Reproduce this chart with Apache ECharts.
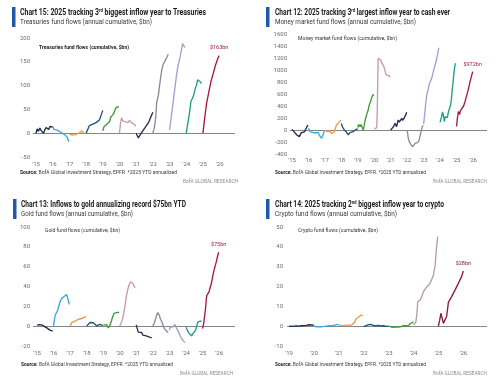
<!DOCTYPE html>
<html><head><meta charset="utf-8">
<script src="https://cdn.jsdelivr.net/npm/echarts@6/dist/echarts.min.js"></script>
<style>html,body{margin:0;padding:0;background:#fff}#c{width:500px;height:384px}</style>
</head><body><div id="c"></div>
<script>
// ---------- DATA ----------
const yearColors = ['#1c2b50','#3ca6d6','#ec9a4a','#1e5577','#3e9b35','#c99aac','#3b2352','#8f8a94','#9ba4cf','#1f9e85','#a81a40'];
const cryptoColors = ['#1c2b50','#3ca6d6','#ec9a4a','#1e5577','#3e9b35','#b89aaa','#8a1a40'];
const tsyTicks = [2015,2016,2017,2018,2019,2020,2021,2022,2023,2024,2025,2026];
const mmfTicks = tsyTicks;
const goldTicks = tsyTicks;
const cryptoTicks = [2019,2020,2021,2022,2023,2024,2025,2026];

// Treasuries fund flows ($bn, annual cumulative)
const tsy2015 = [[2015.0,0],[2015.07,9],[2015.15,4],[2015.23,11],[2015.3,6],[2015.38,3],[2015.45,0],[2015.53,7],[2015.6,12],[2015.68,15],[2015.76,8],[2015.84,14],[2015.92,11],[2016.0,13]];
const tsy2016 = [[2016.0,14],[2016.08,8],[2016.16,12],[2016.24,7],[2016.32,10],[2016.4,4],[2016.48,5],[2016.56,0],[2016.64,2],[2016.72,-3],[2016.8,-5],[2016.88,-9],[2016.96,-18]];
const tsy2017 = [[2017.0,-2],[2017.1,-3],[2017.2,-4],[2017.3,-2],[2017.4,-3],[2017.5,-1],[2017.6,1],[2017.7,4],[2017.75,5],[2017.8,1],[2017.9,-1],[2018.0,0]];
const tsy2018 = [[2018.0,0],[2018.1,4],[2018.2,16],[2018.3,20],[2018.4,19],[2018.5,23],[2018.6,22],[2018.7,26],[2018.8,28],[2018.9,38],[2019.0,48]];
const tsy2019 = [[2019.0,5],[2019.08,14],[2019.16,16],[2019.24,19],[2019.32,20],[2019.4,24],[2019.48,34],[2019.56,36],[2019.64,40],[2019.72,48],[2019.8,54],[2019.88,53],[2019.96,56]];
const tsy2020 = [[2020.0,0],[2020.06,20],[2020.12,32],[2020.2,26],[2020.28,30],[2020.36,24],[2020.44,28],[2020.52,22],[2020.6,27],[2020.68,30],[2020.76,21],[2020.84,25],[2020.92,18],[2020.97,14]];
const tsy2021 = [[2021.0,0],[2021.06,-4],[2021.13,-10],[2021.2,-6],[2021.3,0],[2021.4,5],[2021.5,10],[2021.6,14],[2021.7,20],[2021.8,27],[2021.9,36],[2022.0,44]];
const tsy2022 = [[2022.0,0],[2022.08,10],[2022.17,32],[2022.23,65],[2022.33,80],[2022.43,108],[2022.53,132],[2022.62,145],[2022.7,150],[2022.77,155],[2022.85,160],[2022.92,166]];
const tsy2023 = [[2023.0,7],[2023.12,39],[2023.22,67],[2023.32,95],[2023.42,123],[2023.52,144],[2023.62,158],[2023.72,176],[2023.78,188],[2023.83,186],[2023.88,182],[2023.93,180]];
const tsy2024 = [[2024.0,0],[2024.08,18],[2024.18,39],[2024.28,67],[2024.35,72],[2024.42,77],[2024.52,91],[2024.62,102],[2024.68,112],[2024.72,116],[2024.78,110],[2024.84,108],[2024.9,104]];
const tsy2025 = [[2025.0,0],[2025.08,25],[2025.18,53],[2025.22,63],[2025.28,66],[2025.36,88],[2025.48,109],[2025.62,126],[2025.76,144],[2025.9,158],[2025.97,163]];

// Money market fund flows ($bn)
const mmf2015 = [[2015.0,11],[2015.08,-10],[2015.16,-39],[2015.24,-60],[2015.3,-83],[2015.38,-70],[2015.45,-111],[2015.52,-80],[2015.57,-44],[2015.63,-60],[2015.69,-72],[2015.76,-30],[2015.83,0],[2015.9,50],[2015.96,83]];
const mmf2016 = [[2016.0,30],[2016.03,0],[2016.1,-30],[2016.19,-55],[2016.27,-40],[2016.35,-28],[2016.42,-50],[2016.5,-72],[2016.6,-39],[2016.65,-80],[2016.7,-111],[2016.8,-139],[2016.86,-100],[2016.92,-55],[2016.97,-10]];
const mmf2017 = [[2017.0,0],[2017.08,-15],[2017.16,-28],[2017.23,-20],[2017.3,-17],[2017.35,-35],[2017.4,-55],[2017.45,-60],[2017.5,-83],[2017.55,-40],[2017.6,0],[2017.65,40],[2017.7,83],[2017.8,111],[2017.9,140],[2017.96,167]];
const mmf2018 = [[2018.0,111],[2018.06,55],[2018.12,30],[2018.18,0],[2018.25,-20],[2018.32,-39],[2018.37,-60],[2018.42,-83],[2018.47,-60],[2018.52,-44],[2018.57,-65],[2018.62,-55],[2018.72,-28],[2018.82,0],[2018.9,11],[2019.0,20]];
const mmf2019 = [[2019.0,40],[2019.05,94],[2019.1,70],[2019.14,55],[2019.2,90],[2019.26,60],[2019.33,0],[2019.38,60],[2019.43,139],[2019.48,200],[2019.53,250],[2019.58,290],[2019.63,333],[2019.68,400],[2019.73,444],[2019.78,480],[2019.83,528],[2019.88,560],[2019.93,594],[2019.96,570]];
const mmf2020 = [[2020.0,20],[2020.08,25],[2020.15,40],[2020.18,300],[2020.21,800],[2020.24,1194],[2020.28,1210],[2020.33,1190],[2020.38,1170],[2020.43,1139],[2020.48,1110],[2020.53,1094],[2020.58,1060],[2020.63,1028],[2020.68,960],[2020.74,917],[2020.8,930],[2020.86,889],[2020.92,900],[2020.96,880]];
const mmf2021 = [[2021.0,0],[2021.05,-20],[2021.1,28],[2021.18,60],[2021.26,111],[2021.31,80],[2021.36,55],[2021.41,120],[2021.46,167],[2021.52,130],[2021.57,111],[2021.62,160],[2021.67,194],[2021.72,160],[2021.77,139],[2021.82,200],[2021.87,222],[2021.92,260],[2021.97,294]];
const mmf2022 = [[2022.0,0],[2022.07,-139],[2022.12,-190],[2022.17,-222],[2022.22,-240],[2022.27,-250],[2022.33,-280],[2022.38,-294],[2022.43,-260],[2022.48,-222],[2022.53,-240],[2022.58,-250],[2022.63,-210],[2022.68,-183],[2022.73,-170],[2022.78,-139],[2022.84,-28],[2022.92,55],[2022.97,80]];
const mmf2023 = [[2023.0,100],[2023.04,200],[2023.08,306],[2023.13,450],[2023.19,583],[2023.24,640],[2023.29,694],[2023.34,760],[2023.39,806],[2023.44,820],[2023.49,861],[2023.54,920],[2023.59,972],[2023.64,1000],[2023.69,1083],[2023.74,1120],[2023.79,1194],[2023.85,1260],[2023.9,1350],[2023.93,1370]];
const mmf2024 = [[2024.0,128],[2024.05,180],[2024.09,222],[2024.15,300],[2024.2,278],[2024.23,200],[2024.26,139],[2024.3,220],[2024.34,250],[2024.39,230],[2024.44,206],[2024.49,280],[2024.54,333],[2024.59,380],[2024.64,417],[2024.68,500],[2024.71,583],[2024.74,680],[2024.77,750],[2024.8,840],[2024.83,917],[2024.86,990],[2024.89,1056],[2024.93,1110],[2024.95,1094]];
const mmf2025 = [[2025.0,60],[2025.05,194],[2025.11,306],[2025.15,280],[2025.19,261],[2025.23,320],[2025.27,333],[2025.31,300],[2025.35,317],[2025.43,400],[2025.51,472],[2025.6,560],[2025.68,639],[2025.75,720],[2025.82,806],[2025.9,890],[2025.98,972]];

// Gold fund flows ($bn)
const gold2015 = [[2015.0,1],[2015.04,3],[2015.1,2],[2015.16,1.5],[2015.22,2],[2015.28,0.3],[2015.34,1],[2015.4,0],[2015.48,-0.7],[2015.55,-0.5],[2015.62,-2],[2015.7,-2.5],[2015.78,-4],[2015.85,-3.5],[2015.95,-5]];
const gold2016 = [[2016.0,0],[2016.05,6],[2016.1,11],[2016.15,13],[2016.2,13],[2016.25,16],[2016.3,19.5],[2016.35,22],[2016.39,24.5],[2016.44,26],[2016.49,28],[2016.54,28.5],[2016.59,29.6],[2016.64,30],[2016.69,31.3],[2016.74,31],[2016.79,32],[2016.84,30],[2016.89,26],[2016.95,22]];
const gold2017 = [[2017.0,0],[2017.05,2],[2017.1,3.7],[2017.2,2.7],[2017.3,5],[2017.4,4.3],[2017.5,7],[2017.6,6],[2017.7,7.7],[2017.8,8.4],[2017.9,9.4],[2017.96,9.6]];
const gold2018 = [[2018.0,0],[2018.1,1.7],[2018.2,3.7],[2018.3,5],[2018.4,3.4],[2018.5,1.7],[2018.6,0.3],[2018.7,0],[2018.8,1.7],[2018.9,1],[2018.97,0.5]];
const gold2019 = [[2019.0,1],[2019.05,2],[2019.1,1],[2019.2,1.5],[2019.25,0],[2019.31,-1.7],[2019.36,-1],[2019.41,1],[2019.46,3],[2019.51,6],[2019.56,9],[2019.61,11],[2019.66,13],[2019.71,15],[2019.8,13.7],[2019.9,14.5],[2019.96,14]];
const gold2020 = [[2020.0,0],[2020.07,2],[2020.15,6],[2020.2,10],[2020.25,14.4],[2020.3,19],[2020.35,24.5],[2020.4,30],[2020.45,34.6],[2020.5,38],[2020.55,41.3],[2020.6,43],[2020.65,44.7],[2020.7,45.4],[2020.75,45.2],[2020.8,43],[2020.85,41],[2020.92,38.5]];
const gold2021 = [[2021.0,1.4],[2021.03,-1],[2021.06,-3],[2021.12,-6],[2021.18,-7.4],[2021.24,-7],[2021.32,-6.4],[2021.4,-9],[2021.46,-8],[2021.52,-8.4],[2021.6,-9.7],[2021.68,-10.5],[2021.76,-10.8],[2021.85,-11.3],[2021.93,-11.8]];
const gold2022 = [[2022.0,0],[2022.08,3],[2022.17,7.7],[2022.23,11],[2022.29,13.8],[2022.34,12.5],[2022.39,11],[2022.44,8],[2022.49,6],[2022.54,4.5],[2022.59,2.7],[2022.64,0],[2022.69,-2.4],[2022.76,-4],[2022.83,-5],[2022.93,-6.4]];
const gold2023 = [[2023.0,-4],[2023.03,-1],[2023.08,0],[2023.13,1],[2023.18,-1],[2023.23,-2],[2023.28,0],[2023.33,1.7],[2023.38,0],[2023.43,-2],[2023.48,-3],[2023.53,-5],[2023.58,-7],[2023.63,-9],[2023.68,-10],[2023.73,-12.4],[2023.8,-13.5],[2023.86,-15.1],[2023.93,-16.5]];
const gold2024 = [[2024.0,-1],[2024.04,-3],[2024.08,-4],[2024.13,-6],[2024.18,-7],[2024.23,-8.4],[2024.28,-9],[2024.33,-9.7],[2024.38,-9],[2024.43,-7.4],[2024.48,-7],[2024.53,-6],[2024.58,-4],[2024.63,-0.7],[2024.68,2],[2024.73,4.4],[2024.8,3.7],[2024.86,5],[2024.89,6],[2024.94,5],[2024.97,5]];
const gold2025 = [[2025.0,-2.4],[2025.03,-1],[2025.07,2.7],[2025.13,11],[2025.19,19.5],[2025.23,28],[2025.26,31],[2025.29,33],[2025.33,29],[2025.36,31],[2025.39,34.6],[2025.46,39],[2025.53,43],[2025.6,49],[2025.67,54.8],[2025.75,60],[2025.83,64.9],[2025.9,70],[2025.97,74.5]];

// Crypto fund flows ($bn)
const crypto2019 = [[2019.0,0],[2019.1,-0.1],[2019.2,0],[2019.3,0.1],[2019.4,0],[2019.5,0.2],[2019.6,0.3],[2019.7,0.4],[2019.8,0.7],[2019.9,0.6],[2020.0,0.5]];
const crypto2020 = [[2020.0,0],[2020.1,-0.3],[2020.2,-0.2],[2020.3,-0.3],[2020.4,-0.1],[2020.5,0],[2020.6,0.2],[2020.7,0.1],[2020.8,0.4],[2020.9,0.8],[2021.0,0.9]];
const crypto2021 = [[2021.0,0.3],[2021.1,0.4],[2021.2,0.3],[2021.3,0.5],[2021.4,0.5],[2021.5,0.6],[2021.58,0.8],[2021.63,1.8],[2021.68,3.5],[2021.73,4.2],[2021.78,4.5],[2021.84,5.3],[2021.9,5.6],[2021.96,5.3]];
const crypto2022 = [[2022.0,-0.2],[2022.1,0.3],[2022.2,0.8],[2022.25,0.4],[2022.3,0.9],[2022.4,0.3],[2022.5,0.2],[2022.6,0.4],[2022.7,0.1],[2022.8,0.2],[2022.9,-0.1],[2023.0,0]];
const crypto2023 = [[2023.0,0],[2023.1,-0.4],[2023.2,-0.6],[2023.3,-0.3],[2023.4,-0.5],[2023.5,-0.2],[2023.6,0.3],[2023.65,-0.2],[2023.7,0.2],[2023.8,0.1],[2023.85,1.2],[2023.9,0.8],[2023.95,1.8],[2024.0,2.2]];
const crypto2024 = [[2024.0,0.5],[2024.04,0.8],[2024.09,2],[2024.13,5.6],[2024.17,12.3],[2024.22,12.8],[2024.27,13.2],[2024.33,14.9],[2024.38,15.5],[2024.4,17.4],[2024.47,17.6],[2024.54,19.9],[2024.6,20.3],[2024.67,21.6],[2024.74,22.5],[2024.8,25.8],[2024.87,30.9],[2024.91,37.6],[2024.97,45.2]];
const crypto2025 = [[2025.0,0],[2025.05,3],[2025.1,6.5],[2025.15,4],[2025.2,1.4],[2025.27,0.6],[2025.33,5],[2025.4,12],[2025.53,14.9],[2025.67,18.3],[2025.8,21.6],[2025.93,25],[2026.0,27.8]];

const endLabels = ['$163bn', '$972bn', '$75bn', '$28bn'];

// ---------- BUILD ----------
const FONT = 'Roboto, "Liberation Sans", sans-serif';
const cv = document.createElement('canvas').getContext('2d');
function tw(t, font){ cv.font = font; return cv.measureText(t).width; }
function textLine(x, y, targetW, parts){
  let cx = 0; const children = [];
  parts.forEach(p => {
    children.push({type:'text', x:cx, y:p.dy||0, silent:true,
      style:{text:p.t, font:p.font, fill:p.fill, textAlign:'left', textVerticalAlign:'middle'}});
    cx += tw(p.t, p.font);
  });
  return {type:'group', x:x, y:y, scaleX: targetW/cx, silent:true, children:children};
}

const panels = [
  {grid:{left:33,top:38,width:202,height:119}, xr:[2014.82,2026.92], yr:[-50,200,50], ticks:tsyTicks,
   series:[tsy2015,tsy2016,tsy2017,tsy2018,tsy2019,tsy2020,tsy2021,tsy2022,tsy2023,tsy2024,tsy2025], colors:yearColors, xm:4, ym:3},
  {grid:{left:290,top:34,width:197,height:120}, xr:[2014.88,2026.85], yr:[-400,1600,200], ticks:mmfTicks,
   series:[mmf2015,mmf2016,mmf2017,mmf2018,mmf2019,mmf2020,mmf2021,mmf2022,mmf2023,mmf2024,mmf2025], colors:yearColors, xm:3, ym:3},
  {grid:{left:33,top:227,width:202,height:119}, xr:[2014.76,2026.96], yr:[-20,100,20], ticks:goldTicks,
   series:[gold2015,gold2016,gold2017,gold2018,gold2019,gold2020,gold2021,gold2022,gold2023,gold2024,gold2025], colors:yearColors, xm:4, ym:3},
  {grid:{left:287,top:227,width:200,height:119}, xr:[2018.92,2026.95], yr:[-10,50,10], ticks:cryptoTicks,
   series:[crypto2019,crypto2020,crypto2021,crypto2022,crypto2023,crypto2024,crypto2025], colors:cryptoColors, xm:4, ym:4}
];

const grids=[], xAxes=[], yAxes=[], series=[];
const axisLabelStyle = {color:'#6b6b6b', fontSize:6, fontFamily:FONT};
panels.forEach((p, i) => {
  grids.push(p.grid);
  xAxes.push({type:'value', gridIndex:i, min:p.xr[0], max:p.xr[1],
    axisLine:{show:false}, axisTick:{show:false}, splitLine:{show:false},
    axisLabel:Object.assign({margin:p.xm, customValues:p.ticks, formatter:v => "'" + String(Math.round(v)).slice(2)}, axisLabelStyle)});
  yAxes.push({type:'value', gridIndex:i, min:p.yr[0], max:p.yr[1], interval:p.yr[2],
    axisLine:{show:false}, axisTick:{show:false}, splitLine:{show:false},
    axisLabel:Object.assign({margin:p.ym, formatter:v => String(v)}, axisLabelStyle)});
  p.series.forEach((d, j) => {
    const s = {type:'line', xAxisIndex:i, yAxisIndex:i, data:d, showSymbol:false, symbol:'none',
      silent:true, animation:false, z:3,
      lineStyle:{color:p.colors[j], width:1.35}, itemStyle:{color:p.colors[j]}};
    if (j === 0) {
      s.markLine = {silent:true, symbol:['none','none'], label:{show:false}, animation:false, z:1,
        lineStyle:{color:'#858585', width:1, type:'solid'}, data:[{yAxis:0}]};
    }
    if (j === p.series.length - 1) {
      const last = d[d.length-1];
      s.markPoint = {silent:true, animation:false, symbol:'circle', symbolSize:1,
        itemStyle:{color:'rgba(0,0,0,0)'},
        data:[{coord:last, label:{show:true, position:'top', distance:4, formatter:endLabels[i],
          color:p.colors[j], fontSize:5.5, fontFamily:FONT}}]};
    }
    series.push(s);
  });
});

// ---------- TEXT ----------
const T = 'bold 9px ' + FONT, TS = 'bold 5.5px ' + FONT, ST = '8px ' + FONT;
const SRCB = 'bold 5.5px ' + FONT, SRC = '5.5px ' + FONT, SMALL = '5.5px ' + FONT;
const blue = '#2158a8', dark = '#1b1b1b', mid = '#3a3a3a', grey = '#8c8c8c';
const src = 'BofA Global Investment Strategy, EPFR. *2025 YTD annualized';
const graphics = [];
function header(x0, y0, barX, titleParts, titleW, sub, subW){
  graphics.push({type:'rect', silent:true, shape:{x:barX, y:y0-6, width:3.5, height:20}, style:{fill:blue}});
  graphics.push(textLine(x0, y0, titleW, titleParts));
  graphics.push(textLine(x0, y0+9, subW, [{t:sub, font:ST, fill:mid}]));
}
header(20, 13, 12, [{t:'Chart 15: 2025 tracking 3', font:T, fill:dark},{t:'rd', font:TS, fill:dark, dy:-2.5},{t:' biggest inflow year to Treasuries', font:T, fill:dark}], 186,
  'Treasuries fund flows (annual cumulative, $bn)', 132);
header(275, 13, 266, [{t:'Chart 12: 2025 tracking 3', font:T, fill:dark},{t:'rd', font:TS, fill:dark, dy:-2.5},{t:' largest inflow year to cash ever', font:T, fill:dark}], 175,
  'Money market fund flows (annual cumulative, $bn)', 141);
header(21, 205, 13, [{t:'Chart 13: Inflows to gold annualizing record $75bn YTD', font:T, fill:dark}], 165,
  'Gold fund flows (annual cumulative, $bn)', 112);
header(275, 205, 266, [{t:'Chart 14: 2025 tracking 2', font:T, fill:dark},{t:'nd', font:TS, fill:dark, dy:-2.5},{t:' biggest inflow year to crypto', font:T, fill:dark}], 169,
  'Crypto fund flows (annual cumulative, $bn)', 122);

// sources and BofA tags
[[20,173,157],[275,173,151],[21,365,152],[275,365,151]].forEach(a => {
  graphics.push(textLine(a[0], a[1], a[2], [{t:'Source: ', font:SRCB, fill:dark},{t:src, font:SRC, fill:mid}]));
});
[[183,182,55],[433,182,54],[180,374,53],[433,374,54]].forEach(a => {
  graphics.push(textLine(a[0], a[1], a[2], [{t:'BofA GLOBAL RESEARCH', font:SMALL, fill:grey}]));
});
// inner chart labels
graphics.push(textLine(39, 47, 90, [{t:'Treasuries fund flows (cumulative, $bn)', font:'bold 6px ' + FONT, fill:'#222'}]));
graphics.push(textLine(298, 38, 99, [{t:'Money market fund flows (cumulative, $bn)', font:'6px ' + FONT, fill:'#333'}]));
graphics.push(textLine(45, 230, 75, [{t:'Gold fund flows (cumulative, $bn)', font:'6px ' + FONT, fill:'#333'}]));
graphics.push(textLine(298, 230, 80, [{t:'Crypto fund flows (cumulative, $bn)', font:'6px ' + FONT, fill:'#333'}]));

const chart = echarts.init(document.getElementById('c'), null, {renderer:'canvas'});
chart.setOption({
  animation:false,
  backgroundColor:'#ffffff',
  grid:grids, xAxis:xAxes, yAxis:yAxes, series:series,
  graphic:{elements:graphics}
});
</script></body></html>
